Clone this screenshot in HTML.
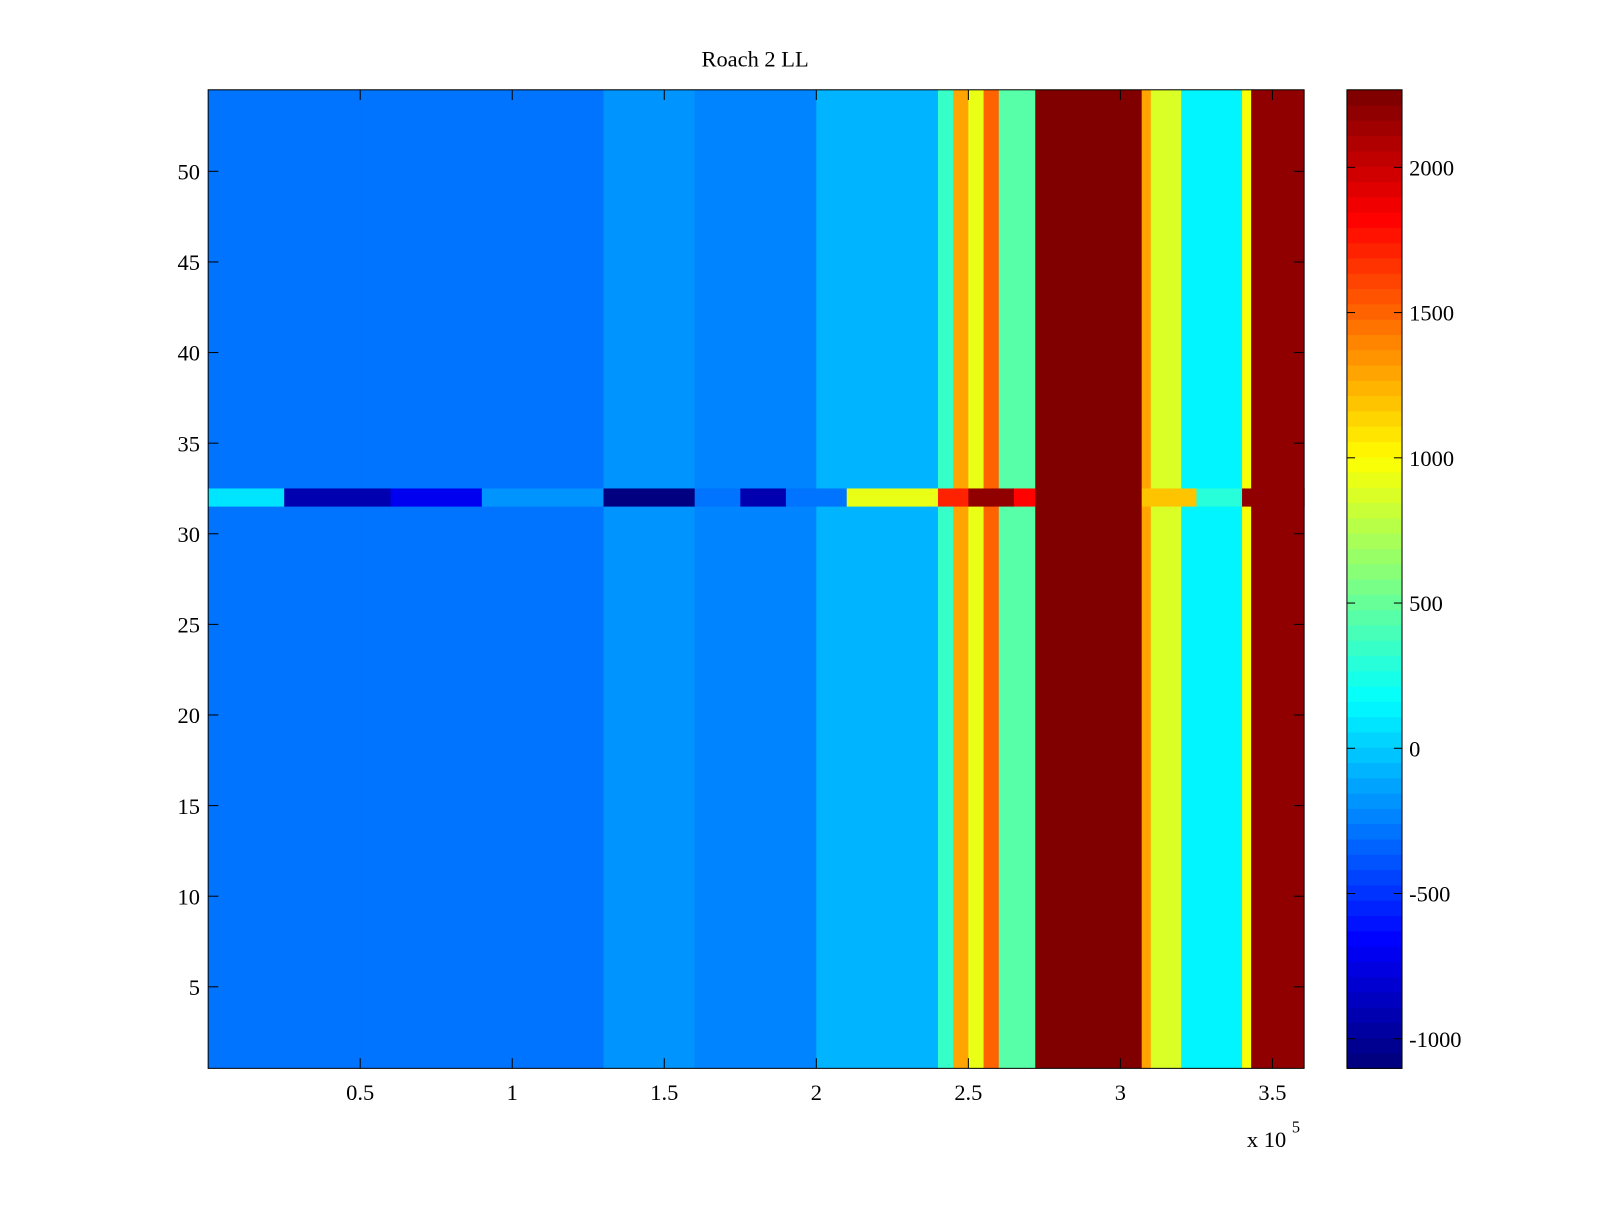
<!DOCTYPE html>
<html><head><meta charset="utf-8">
<style>
html,body{margin:0;padding:0;background:#fff;}
svg text{font-family:"Liberation Serif",serif;font-size:22px;fill:#000;}
</style></head>
<body>
<svg id="chart" width="1600" height="1200" viewBox="0 0 1600 1200" xmlns="http://www.w3.org/2000/svg">
<rect width="1600" height="1200" fill="#fff"/>
<g transform="scale(1.0204)">
<text x="740" y="65" text-anchor="middle">Roach 2 LL</text>
<g id="cells"></g>
<g id="cbar"></g>
<g id="axes"></g>
</g>
</svg>
<script>
// x segment boundaries (units of 1e5) and mean value per segment
const segEdges = [0,0.5,1.3,1.6,2.0,2.4,2.45,2.5,2.55,2.6,2.72,3.07,3.1,3.2,3.4,3.43,3.604];
const segValues = [-300,-260,-180,-240,-80,350,1300,950,1500,450,2267,1300,850,150,1000,2200];
// row 32 anomaly segments
const row32Edges = [0,0.25,0.6,0.9,1.3,1.6,1.75,1.9,2.1,2.4,2.5,2.65,2.72,3.07,3.25,3.4,3.604];
const row32Values = [100,-900,-700,-200,-1050,-300,-900,-300,900,1700,2200,1800,2267,1200,300,2200];
const anomalyRow = 32;
const xTicks = [0.5,1,1.5,2,2.5,3,3.5];
const yTicks = [5,10,15,20,25,30,35,40,45,50];
const cTicks = [-1000,-500,0,500,1000,1500,2000];

const PX0=204,PX1=1278,PY0=88,PY1=1047;
const xMin=0,xMax=3.604,yMin=0.5,yMax=54.5,cMin=-1102,cMax=2267;
const sx=v=>PX0+(v-xMin)/(xMax-xMin)*(PX1-PX0);
const sy=v=>PY1-(v-yMin)/(yMax-yMin)*(PY1-PY0);
const CB0=1320,CB1=1374;
const cy=v=>PY1-(v-cMin)/(cMax-cMin)*(PY1-PY0);

function jet(t){
  t=Math.max(0,Math.min(1,t));
  t=Math.floor(t*63.999)/63;
  const f=x=>Math.max(0,Math.min(1,x));
  const r=f(Math.min(4*t-1.5,-4*t+4.5)),g=f(Math.min(4*t-0.5,-4*t+3.5)),b=f(Math.min(4*t+0.5,-4*t+2.5));
  return `rgb(${Math.round(r*255)},${Math.round(g*255)},${Math.round(b*255)})`;
}
const col=v=>jet((v-cMin)/(cMax-cMin));
const NS="http://www.w3.org/2000/svg";
function mk(tag,attrs,parent){const e=document.createElementNS(NS,tag);for(const k in attrs)e.setAttribute(k,attrs[k]);parent.appendChild(e);return e;}

const cells=document.getElementById('cells');
for(let i=0;i<segValues.length;i++){
  const r=mk('rect',{x:sx(segEdges[i]),y:PY0,width:sx(segEdges[i+1])-sx(segEdges[i])+0.5,height:PY1-PY0,fill:col(segValues[i])},cells);
  
  
}
for(let i=0;i<row32Values.length;i++){
  const r=mk('rect',{x:sx(row32Edges[i]),y:sy(anomalyRow+0.5),width:sx(row32Edges[i+1])-sx(row32Edges[i])+0.5,height:sy(anomalyRow-0.5)-sy(anomalyRow+0.5),fill:col(row32Values[i])},cells);
  
  
}
const cb=document.getElementById('cbar');
for(let k=0;k<64;k++){
  const v0=cMin+k*(cMax-cMin)/64,v1=cMin+(k+1)*(cMax-cMin)/64;
  mk('rect',{x:CB0,y:cy(v1),width:CB1-CB0,height:cy(v0)-cy(v1)+0.5,fill:col((v0+v1)/2)},cb);
}
mk('rect',{x:CB0,y:PY0,width:CB1-CB0,height:PY1-PY0,fill:'none',stroke:'#000','stroke-width':1},cb);
cTicks.forEach(v=>{
  const y=cy(v);
  mk('line',{x1:CB0,x2:CB0+8,y1:y,y2:y,stroke:'#000'},cb);
  mk('line',{x1:CB1,x2:CB1-8,y1:y,y2:y,stroke:'#000'},cb);
  const t=mk('text',{x:1381,y:y+8},cb);t.textContent=v;
  
  
});
const ax=document.getElementById('axes');
mk('rect',{x:PX0,y:PY0,width:PX1-PX0,height:PY1-PY0,fill:'none',stroke:'#000','stroke-width':1},ax);
xTicks.forEach(v=>{
  const x=sx(v);
  mk('line',{x1:x,x2:x,y1:PY1,y2:PY1-10,stroke:'#000'},ax);
  mk('line',{x1:x,x2:x,y1:PY0,y2:PY0+10,stroke:'#000'},ax);
  const t=mk('text',{x:x,y:1078,'text-anchor':'middle'},ax);t.textContent=v;
  
  
});
yTicks.forEach(v=>{
  const y=sy(v);
  mk('line',{x1:PX0,x2:PX0+10,y1:y,y2:y,stroke:'#000'},ax);
  mk('line',{x1:PX1,x2:PX1-10,y1:y,y2:y,stroke:'#000'},ax);
  const t=mk('text',{x:196,y:y+8,'text-anchor':'end'},ax);t.textContent=v;
  
  
});
const ex=mk('text',{x:1222,y:1124},ax);ex.textContent='x 10';


const ex2=mk('text',{x:1266,y:1110,style:'font-size:16px'},ax);ex2.textContent='5';


</script>
</body></html>
